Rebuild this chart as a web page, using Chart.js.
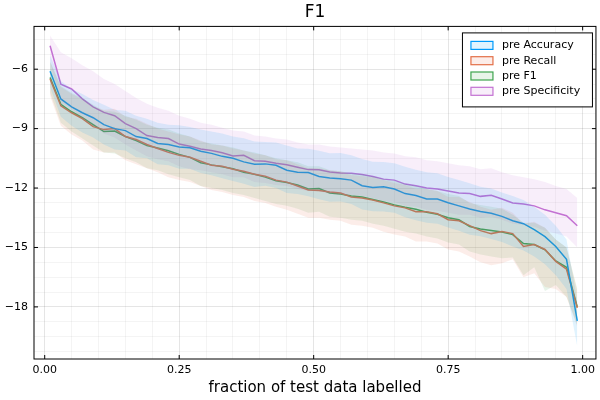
<!DOCTYPE html>
<html lang="en">
<head>
    <meta charset="UTF-8">
    <title>F1</title>
    <style>
        html, body { margin: 0; padding: 0; background: #fff; }
        #wrap { width: 600px; height: 400px; }
    </style>
</head>
<body>
    <div id="wrap"><canvas id="f1-chart" width="600" height="400"></canvas></div>

    <script src="https://cdn.jsdelivr.net/npm/chart.js"></script>
    <script>
        // fraction of test data labelled
        const xs = [0.01, 0.03, 0.05, 0.07, 0.09, 0.11, 0.13, 0.15, 0.17, 0.19,
                    0.21, 0.23, 0.25, 0.27, 0.29, 0.31, 0.33, 0.35, 0.37, 0.39,
                    0.41, 0.43, 0.45, 0.47, 0.49, 0.51, 0.53, 0.55, 0.57, 0.59,
                    0.61, 0.63, 0.65, 0.67, 0.69, 0.71, 0.73, 0.75, 0.77, 0.79,
                    0.81, 0.83, 0.85, 0.87, 0.89, 0.91, 0.93, 0.95, 0.97, 0.99];

        const seriesNames = ['pre Accuracy', 'pre Recall', 'pre F1', 'pre Specificity'];
        const xTicks = [0, 0.25, 0.5, 0.75, 1];
        const yTicks = [-6, -9, -12, -15, -18];

        // pre Accuracy
        const accMean = [-6.1, -7.5, -7.9, -8.2, -8.45, -8.8, -9.0, -9.1, -9.4, -9.5,
                         -9.75, -9.8, -9.93, -9.97, -10.14, -10.25, -10.4, -10.5, -10.68, -10.8,
                         -10.78, -10.85, -11.1, -11.2, -11.22, -11.42, -11.49, -11.53, -11.6, -11.88,
                         -11.97, -11.93, -12.05, -12.28, -12.38, -12.55, -12.55, -12.74, -12.9, -13.06,
                         -13.18, -13.27, -13.43, -13.65, -13.8, -14.1, -14.45, -14.95, -15.6, -18.7];
        const accHi = [-5.3, -6.6, -7.0, -7.25, -7.55, -7.8, -8.05, -8.1, -8.35, -8.5,
                       -8.7, -8.8, -8.83, -8.92, -9.04, -9.15, -9.25, -9.4, -9.48, -9.65,
                       -9.68, -9.7, -9.85, -10.0, -10.02, -10.12, -10.24, -10.23, -10.35, -10.53,
                       -10.67, -10.68, -10.75, -10.93, -11.08, -11.2, -11.25, -11.44, -11.6, -11.76,
                       -11.93, -12.02, -12.23, -12.4, -12.6, -12.95, -13.35, -13.9, -14.6, -17.7];
        const accLo = [-6.9, -8.4, -8.85, -9.2, -9.45, -9.8, -10.05, -10.1, -10.45, -10.5,
                       -10.8, -10.85, -11.03, -11.02, -11.24, -11.35, -11.5, -11.65, -11.78, -11.95,
                       -11.88, -12.0, -12.25, -12.3, -12.42, -12.57, -12.69, -12.68, -12.8, -13.08,
                       -13.17, -13.18, -13.25, -13.48, -13.63, -13.75, -13.8, -13.99, -14.15, -14.36,
                       -14.43, -14.57, -14.73, -14.95, -15.15, -15.45, -15.85, -16.4, -17.1, -20.0];

        // pre Recall
        const recMean = [-6.5, -7.85, -8.2, -8.5, -8.9, -9.05, -9.0, -9.4, -9.55, -9.8,
                         -10.0, -10.2, -10.35, -10.45, -10.65, -10.85, -10.9, -11.05, -11.15, -11.3,
                         -11.4, -11.6, -11.7, -11.9, -12.1, -12.12, -12.2, -12.25, -12.45, -12.5,
                         -12.6, -12.75, -12.9, -13.0, -13.2, -13.2, -13.3, -13.6, -13.65, -13.9,
                         -14.15, -14.3, -14.2, -14.3, -14.95, -14.85, -15.1, -15.7, -16.1, -18.05];
        const recHi = [-5.65, -6.9, -7.25, -7.5, -7.9, -8.05, -8.0, -8.4, -8.5, -8.75,
                       -9.0, -9.15, -9.3, -9.4, -9.6, -9.8, -9.85, -10.0, -10.1, -10.25,
                       -10.35, -10.55, -10.6, -10.8, -11.0, -11.0, -11.1, -11.15, -11.35, -11.4,
                       -11.45, -11.6, -11.75, -11.85, -12.05, -12.05, -12.15, -12.45, -12.45, -12.7,
                       -12.95, -13.1, -13.0, -13.25, -13.8, -13.7, -14.0, -14.6, -15.0, -17.2];
        const recLo = [-7.35, -8.85, -9.3, -9.6, -10.05, -10.2, -10.2, -10.6, -10.8, -11.0,
                       -11.2, -11.45, -11.6, -11.7, -11.9, -12.1, -12.2, -12.35, -12.45, -12.65,
                       -12.75, -12.95, -13.1, -13.3, -13.5, -13.5, -13.6, -13.65, -13.85, -13.9,
                       -14.0, -14.2, -14.35, -14.45, -14.7, -14.7, -14.8, -15.1, -15.2, -15.45,
                       -15.75, -15.9, -15.8, -15.6, -16.5, -16.3, -17.0, -17.1, -17.5, -19.0];

        // pre F1
        const f1Mean = [-6.42, -7.77, -8.15, -8.45, -8.8, -9.15, -9.12, -9.4, -9.6, -9.85,
                        -9.98, -10.12, -10.3, -10.45, -10.72, -10.83, -10.92, -11.03, -11.2, -11.3,
                        -11.45, -11.63, -11.72, -11.85, -12.05, -12.02, -12.25, -12.3, -12.4, -12.45,
                        -12.58, -12.7, -12.85, -12.97, -13.07, -13.22, -13.32, -13.5, -13.6, -13.94,
                        -14.07, -14.14, -14.22, -14.35, -14.8, -14.85, -15.12, -15.68, -16.0, -18.0];
        const f1Hi = [-5.6, -6.85, -7.2, -7.45, -7.8, -8.1, -8.15, -8.35, -8.55, -8.8,
                      -8.95, -9.05, -9.25, -9.4, -9.65, -9.75, -9.85, -9.95, -10.1, -10.2,
                      -10.35, -10.5, -10.6, -10.7, -10.9, -10.9, -11.1, -11.15, -11.25, -11.3,
                      -11.4, -11.55, -11.65, -11.8, -11.9, -12.05, -12.15, -12.3, -12.4, -12.75,
                      -12.85, -12.95, -13.05, -13.35, -13.75, -13.75, -14.0, -14.6, -15.0, -17.1];
        const f1Lo = [-7.2, -8.7, -9.15, -9.5, -9.85, -10.2, -10.25, -10.5, -10.7, -11.0,
                      -11.1, -11.3, -11.45, -11.6, -11.9, -12.0, -12.1, -12.25, -12.35, -12.5,
                      -12.65, -12.8, -12.9, -13.05, -13.25, -13.2, -13.45, -13.5, -13.6, -13.65,
                      -13.8, -13.9, -14.05, -14.2, -14.3, -14.45, -14.55, -14.75, -14.85, -15.2,
                      -15.35, -15.45, -15.55, -15.5, -16.4, -16.0, -17.2, -16.9, -17.5, -18.9];

        // pre Specificity
        const specMean = [-4.82, -6.76, -7.0, -7.5, -7.9, -8.18, -8.35, -8.75, -9.0, -9.35,
                          -9.45, -9.5, -9.78, -9.89, -10.03, -10.1, -10.22, -10.38, -10.35, -10.62,
                          -10.65, -10.75, -10.82, -10.95, -11.07, -11.08, -11.19, -11.24, -11.25, -11.32,
                          -11.42, -11.55, -11.6, -11.8, -11.88, -12.0, -12.05, -12.15, -12.25, -12.28,
                          -12.42, -12.36, -12.55, -12.75, -12.8, -12.9, -13.1, -13.25, -13.4, -13.9];
        const specHi = [-4.3, -5.15, -5.45, -5.8, -6.1, -6.5, -6.75, -7.1, -7.45, -7.75,
                        -7.95, -8.1, -8.35, -8.5, -8.7, -8.8, -8.95, -9.1, -9.15, -9.35,
                        -9.4, -9.5, -9.55, -9.7, -9.8, -9.8, -9.9, -9.95, -10.0, -10.05,
                        -10.1, -10.2, -10.25, -10.4, -10.45, -10.6, -10.65, -10.75, -10.85, -10.9,
                        -11.05, -11.0, -11.2, -11.35, -11.45, -11.55, -11.7, -11.9, -12.05, -12.5];
        const specLo = [-5.6, -7.7, -8.0, -8.5, -8.85, -9.25, -9.45, -9.8, -10.1, -10.4,
                        -10.55, -10.65, -10.9, -11.05, -11.1, -11.2, -11.3, -11.45, -11.45, -11.7,
                        -11.75, -11.85, -11.9, -12.05, -12.15, -12.15, -12.3, -12.35, -12.35, -12.4,
                        -12.5, -12.65, -12.7, -12.9, -12.95, -13.1, -13.15, -13.25, -13.35, -13.35,
                        -13.5, -13.45, -13.6, -13.8, -13.85, -13.95, -14.15, -14.3, -14.45, -15.0];

        const colors = ['#009AFA', '#E36F47', '#3EA44E', '#C371D2'];
        const fills = ['rgba(0,154,250,0.12)', 'rgba(227,111,71,0.12)',
                       'rgba(62,164,78,0.12)', 'rgba(195,113,210,0.12)'];

        const means = [accMean, recMean, f1Mean, specMean];
        const highs = [accHi, recHi, f1Hi, specHi];
        const lows = [accLo, recLo, f1Lo, specLo];

        function pts(ys) {
            return xs.map((x, i) => ({ x: x, y: ys[i] }));
        }

        const datasets = [];
        // ribbons first, lines on top
        means.forEach((m, i) => {
            datasets.push({ label: seriesNames[i] + ' hi', data: pts(highs[i]), borderWidth: 0,
                            pointRadius: 0, fill: '+1', backgroundColor: fills[i] });
            datasets.push({ label: seriesNames[i] + ' lo', data: pts(lows[i]), borderWidth: 0,
                            pointRadius: 0, fill: false });
        });
        means.forEach((m, i) => {
            datasets.push({ label: seriesNames[i], data: pts(m), borderColor: colors[i],
                            borderWidth: 1.5, pointRadius: 0, fill: false, tension: 0 });
        });

        const near = (v, list) => list.some(t => Math.abs(v - t) < 1e-6);
        const minus = s => String(s).replace('-', '\u2212');

        // box frame with inward ticks on all sides
        const frame = {
            id: 'frame',
            afterDatasetsDraw(chart) {
                const ctx = chart.ctx, a = chart.chartArea;
                const sx = chart.scales.x, sy = chart.scales.y;
                ctx.save();
                ctx.strokeStyle = '#000';
                ctx.lineWidth = 1;
                ctx.strokeRect(a.left, a.top, a.right - a.left, a.bottom - a.top);
                ctx.beginPath();
                xTicks.forEach(v => {
                    const px = sx.getPixelForValue(v);
                    ctx.moveTo(px, a.bottom); ctx.lineTo(px, a.bottom - 4);
                    ctx.moveTo(px, a.top); ctx.lineTo(px, a.top + 4);
                });
                yTicks.forEach(v => {
                    const py = sy.getPixelForValue(v);
                    ctx.moveTo(a.left, py); ctx.lineTo(a.left + 4, py);
                    ctx.moveTo(a.right, py); ctx.lineTo(a.right - 4, py);
                });
                ctx.stroke();
                ctx.restore();
            }
        };

        const legendBox = {
            id: 'legendBox',
            afterDraw(chart) {
                const ctx = chart.ctx, a = chart.chartArea;
                const x0 = a.right - 134, y0 = a.top + 6, w = 130, h = 74;
                ctx.save();
                ctx.fillStyle = '#fff';
                ctx.fillRect(x0, y0, w, h);
                ctx.strokeStyle = '#000';
                ctx.lineWidth = 1;
                ctx.strokeRect(x0 + 0.5, y0 + 0.5, w, h);
                ctx.font = '11px "DejaVu Sans"';
                ctx.textBaseline = 'middle';
                seriesNames.forEach((name, i) => {
                    const cy = y0 + 13 + i * 15.3;
                    ctx.fillStyle = fills[i];
                    ctx.fillRect(x0 + 9, cy - 4, 22, 8);
                    ctx.strokeStyle = colors[i];
                    ctx.lineWidth = 1.2;
                    ctx.strokeRect(x0 + 9, cy - 4, 22, 8);
                    ctx.fillStyle = '#000';
                    ctx.fillText(name, x0 + 40, cy);
                });
                ctx.restore();
            }
        };

        const ctx = document.getElementById('f1-chart').getContext('2d');
        new Chart(ctx, {
            type: 'line',
            data: { datasets: datasets },
            plugins: [frame, legendBox],
            options: {
                responsive: false,
                animation: false,
                layout: { padding: { left: 0, right: 4, top: 0, bottom: 0 } },
                plugins: {
                    legend: { display: false },
                    tooltip: { enabled: false },
                    title: {
                        display: true,
                        text: 'F1',
                        fullSize: false,
                        color: '#000',
                        font: { family: 'DejaVu Sans', size: 17, weight: 'normal' },
                        padding: { top: 2, bottom: 4 }
                    }
                },
                scales: {
                    x: {
                        type: 'linear',
                        min: -0.0199,
                        max: 1.0247,
                        afterFit: s => { s.height = 41; },
                        border: { display: false },
                        grid: {
                            drawTicks: false,
                            color: c => near(c.tick.value, xTicks) ? 'rgba(0,0,0,0.1)' : 'rgba(0,0,0,0.045)'
                        },
                        ticks: {
                            stepSize: 0.05,
                            includeBounds: false,
                            padding: 5,
                            maxRotation: 0,
                            autoSkip: false,
                            color: '#000',
                            font: { family: 'DejaVu Sans', size: 11 },
                            callback: v => near(v, xTicks) ? v.toFixed(2) : ''
                        },
                        title: {
                            display: true,
                            text: 'fraction of test data labelled',
                            color: '#000',
                            font: { family: 'DejaVu Sans', size: 15 },
                            padding: { top: 0, bottom: 3 }
                        }
                    },
                    y: {
                        type: 'linear',
                        min: -20.63,
                        max: -3.84,
                        afterFit: s => { s.width = 34; },
                        border: { display: false },
                        grid: {
                            drawTicks: false,
                            color: c => near(c.tick.value, yTicks) ? 'rgba(0,0,0,0.1)' : 'rgba(0,0,0,0.045)'
                        },
                        ticks: {
                            stepSize: 0.75,
                            includeBounds: false,
                            padding: 6,
                            autoSkip: false,
                            color: '#000',
                            font: { family: 'DejaVu Sans', size: 11 },
                            callback: v => near(v, yTicks) ? minus(v) : ''
                        }
                    }
                }
            }
        });
    </script>
</body>
</html>
